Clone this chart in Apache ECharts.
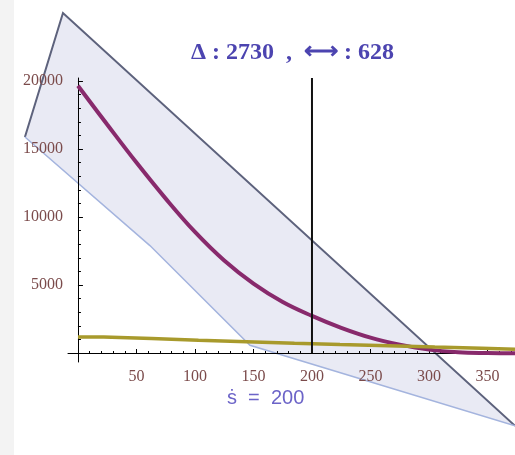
<!DOCTYPE html>
<html>
<head>
<meta charset="utf-8">
<script src="https://cdn.jsdelivr.net/npm/echarts@6/dist/echarts.min.js"></script>
<style>
    html, body { margin: 0; padding: 0; background: #fff; }
    #chart { width: 515px; height: 455px; }
</style>
</head>
<body>
<div id="chart"></div>
<script>
// purple decay curve
const decayX = [0, 25, 50, 75, 100, 125, 150, 175, 200, 225, 250, 275, 300, 325, 350, 373.5];
const decayY = [19650, 16800, 14000, 11350, 8900, 6800, 5100, 3750, 2730, 1850, 1130, 620, 250, 60, 0, -20];
// olive stepped line
const stepX = [0, 22, 63, 103, 144, 185, 224, 265, 305, 345, 373.5];
const stepY = [1180, 1060, 940, 830, 720, 628, 540, 440, 350, 270, 270];
// the blue wedge (outline vertices)
const wedgeX = [-12.8, -45.3, 61.5, 147, 373.5];
const wedgeY = [25000, 15880, 7900, 567, -5350];
// marker
const markerX = 200;
const markerDelta = 2730;
const markerSpan = 628;
// ticks
const xTicks = [50, 100, 150, 200, 250, 300, 350];
const xMinor = [10, 20, 30, 40, 60, 70, 80, 90, 110, 120, 130, 140, 160, 170, 180, 190, 210, 220, 230, 240, 260, 270, 280, 290, 310, 320, 330, 340, 360, 370];
const yTicks = [5000, 10000, 15000, 20000];
const yMinor = [1000, 2000, 3000, 4000, 6000, 7000, 8000, 9000, 11000, 12000, 13000, 14000, 16000, 17000, 18000, 19000];

const X_MIN = -8.5, X_MAX = 373.5, Y_MIN = -660, Y_MAX = 20220;

let chart = echarts.init(document.getElementById('chart'));

function xAxisOf(major) {
    return {
        type: 'value',
        min: X_MIN,
        max: X_MAX,
        position: 'bottom',
        z: 3,
        axisLine: {
            show: major,
            onZero: true,
            onZeroAxisIndex: 0,
            lineStyle: { color: '#000', width: 1 }
        },
        axisTick: {
            show: true,
            inside: true,
            length: major ? 4 : 2,
            customValues: major ? xTicks : xMinor,
            lineStyle: { color: '#000', width: 1 }
        },
        axisLabel: {
            show: major,
            customValues: xTicks,
            formatter: v => String(v),
            color: '#7b4b4b',
            fontFamily: 'Liberation Serif',
            fontSize: 16,
            margin: 7
        },
        splitLine: { show: false }
    };
}

function yAxisOf(major) {
    return {
        type: 'value',
        min: Y_MIN,
        max: Y_MAX,
        position: 'left',
        z: 3,
        axisLine: {
            show: major,
            onZero: true,
            onZeroAxisIndex: 0,
            lineStyle: { color: '#000', width: 1 }
        },
        axisTick: {
            show: true,
            inside: true,
            length: major ? 5 : 3,
            customValues: major ? yTicks : yMinor,
            lineStyle: { color: '#000', width: 1 }
        },
        axisLabel: {
            show: major,
            customValues: yTicks,
            formatter: v => String(v),
            color: '#7b4b4b',
            fontFamily: 'Liberation Serif',
            fontSize: 16,
            margin: 5
        },
        splitLine: { show: false }
    };
}

let option = {
    animation: false,
    backgroundColor: '#fff',
    graphic: [
        { type: 'rect', left: 0, top: 0, shape: { width: 14, height: 455 }, style: { fill: '#f3f3f3' }, z: -1 }
    ],
    title: [
        {
            text: 'Δ : ' + markerDelta + '  ,  ⟷ : ' + markerSpan,
            left: 186,
            top: 36,
            textStyle: { fontFamily: 'Liberation Serif', fontWeight: 'bold', fontSize: 24, color: '#4c44b0' }
        },
        {
            text: 'ṡ  =  ' + markerX,
            left: 222,
            top: 383,
            textStyle: { fontFamily: 'Liberation Sans', fontWeight: 'normal', fontSize: 20, color: '#6c64c8' }
        }
    ],
    grid: { left: 68, right: 0, top: 78, bottom: 93, containLabel: false, outerBoundsMode: 'none' },
    xAxis: [xAxisOf(true), xAxisOf(false)],
    yAxis: [yAxisOf(true), yAxisOf(false)],
    series: [
        {
            name: 'wedge',
            type: 'custom',
            z: 1,
            clip: false,
            data: [[wedgeX[3], wedgeY[3]]],
            renderItem: function (params, api) {
                let pts = wedgeX.map((x, i) => api.coord([x, wedgeY[i]]));
                return {
                    type: 'group',
                    children: [
                        {
                            type: 'polygon',
                            shape: { points: pts },
                            style: { fill: 'rgba(190,194,224,0.34)' }
                        },
                        {
                            type: 'polyline',
                            shape: { points: [pts[1], pts[0], pts[4]] },
                            style: { stroke: '#5d627c', lineWidth: 2, fill: null }
                        },
                        {
                            type: 'polyline',
                            shape: { points: [pts[1], pts[2], pts[3], pts[4]] },
                            style: { stroke: '#a4b4de', lineWidth: 1.5, fill: null }
                        }
                    ]
                };
            }
        },
        {
            name: 'decay',
            type: 'line',
            z: 4,
            smooth: 0.4,
            showSymbol: false,
            data: decayX.map((x, i) => [x, decayY[i]]),
            lineStyle: { color: '#882a6c', width: 4 }
        },
        {
            name: 'step',
            type: 'line',
            z: 5,
            step: 'end',
            showSymbol: false,
            data: stepX.map((x, i) => [x, stepY[i]]),
            lineStyle: { color: '#a89a2c', width: 3.5 }
        },
        {
            name: 'marker',
            type: 'line',
            z: 6,
            showSymbol: false,
            data: [[markerX, 0], [markerX, Y_MAX]],
            lineStyle: { color: '#111', width: 2 }
        }
    ]
};

chart.setOption(option);
window.addEventListener('resize', () => {
    chart.resize();
});
</script>
</body>
</html>
